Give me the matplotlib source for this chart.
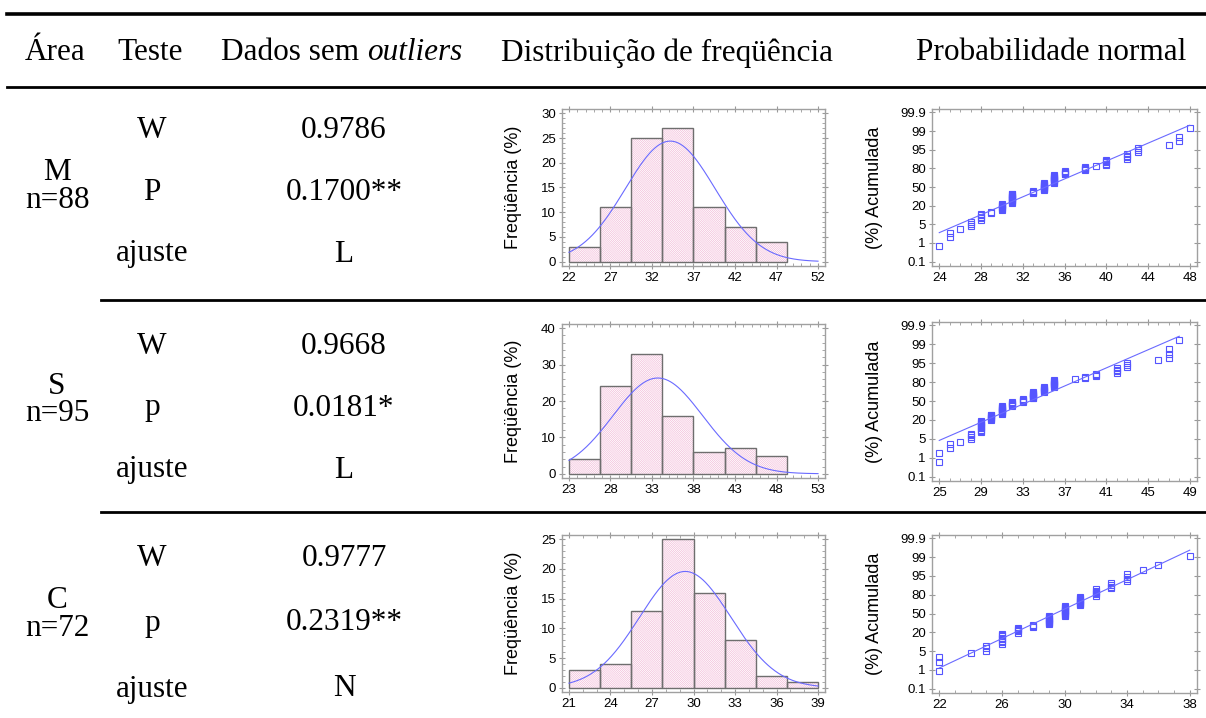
import math
import matplotlib.pyplot as plt
import numpy as np
from matplotlib.lines import Line2D
from matplotlib.text import Annotation
from matplotlib.ticker import AutoMinorLocator

# dados da tabela
header = ['Área', 'Teste', 'Distribuição de freqüência', 'Probabilidade normal']
header_dados = ['Dados sem ', 'outliers']
areas = ['M', 'S', 'C']
n_labels = ['n=88', 'n=95', 'n=72']
tests = [['W', 'P', 'ajuste'], ['W', 'p', 'ajuste'], ['W', 'p', 'ajuste']]
results = [['0.9786', '0.1700**', 'L'],
           ['0.9668', '0.0181*', 'L'],
           ['0.9777', '0.2319**', 'N']]

# histogramas (8 classes cada)
hist_lo = [22, 23, 21]
hist_hi = [52, 53, 39]
hist_counts = [[3, 11, 25, 27, 11, 7, 4, 0],
               [4, 24, 33, 16, 6, 7, 5, 0],
               [3, 4, 13, 25, 16, 8, 2, 1]]
hist_xticks = [[22, 27, 32, 37, 42, 47, 52],
               [23, 28, 33, 38, 43, 48, 53],
               [21, 24, 27, 30, 33, 36, 39]]
hist_yticks = [[0, 5, 10, 15, 20, 25, 30],
               [0, 10, 20, 30, 40],
               [0, 5, 10, 15, 20, 25]]

# ajuste normal (media, desvio)
fit_mean = [34.2, 33.7, 29.4]
fit_sd = [5.4, 5.4, 3.3]

# valores observados (valor, repeticoes) para o grafico de probabilidade
m_vals = [24, 25, 26, 27, 28, 29, 30, 31, 33, 34, 35, 36, 38, 39, 40, 42, 43, 46, 47, 48]
m_reps = [1, 2, 1, 3, 5, 2, 8, 13, 4, 11, 11, 5, 5, 1, 5, 4, 3, 1, 2, 1]
s_vals = [25, 26, 27, 28, 29, 30, 31, 32, 33, 34, 35, 36, 38, 39, 40, 42, 43, 46, 47, 48]
s_reps = [2, 2, 1, 4, 11, 8, 12, 6, 5, 10, 7, 9, 1, 2, 3, 4, 3, 1, 3, 1]
c_vals = [22, 24, 25, 26, 27, 28, 29, 30, 31, 32, 33, 34, 35, 36, 38]
c_reps = [3, 1, 3, 8, 5, 3, 10, 12, 10, 6, 4, 4, 1, 1, 1]
prob_vals = [m_vals, s_vals, c_vals]
prob_reps = [m_reps, s_reps, c_reps]
prob_xticks = [[24, 28, 32, 36, 40, 44, 48],
               [25, 29, 33, 37, 41, 45, 49],
               [22, 26, 30, 34, 38]]
prob_ylabels = ['0.1', '1', '5', '20', '50', '80', '95', '99', '99.9']

W, H = 1206, 718
plt.rcParams['hatch.linewidth'] = 0.4
fig = plt.figure(figsize=(12.06, 7.18), dpi=100)


def fx(x):
    return x / W


def fy(y):
    return 1 - y / H


def box(l, t, r, b):
    return [fx(l), fy(b), (r - l) / W, (b - t) / H]


serif = 'Liberation Serif'
sans = 'Liberation Sans'
fs = 22.5

# linhas da tabela
fig.add_artist(Line2D([fx(7), fx(1206)], [fy(13.5), fy(13.5)], color='k', lw=2.6))
fig.add_artist(Line2D([fx(7), fx(1206)], [fy(86.5), fy(86.5)], color='k', lw=2.0))
for y in [300, 512]:
    fig.add_artist(Line2D([fx(101), fx(1206)], [fy(y), fy(y)], color='k', lw=2.0))

# cabecalho
hy = fy(53)
fig.text(fx(55), hy, header[0], ha='center', va='center', family=serif, size=fs)
fig.text(fx(150), hy, header[1], ha='center', va='center', family=serif, size=fs)
t1 = fig.text(fx(221), hy, header_dados[0], ha='left', va='center', family=serif, size=fs)
fig.add_artist(Annotation(header_dados[1], xy=(1, 0), xycoords=t1, ha='left', va='bottom',
                          family=serif, size=fs, style='italic'))
fig.text(fx(667), hy, header[2], ha='center', va='center', family=serif, size=fs)
fig.text(fx(1051), hy, header[3], ha='center', va='center', family=serif, size=fs)

area_y = [[172, 201], [386, 414], [600, 628]]
test_y = [[131, 193, 254], [346, 408, 470], [559, 623, 689]]
for i in range(3):
    for k in range(2):
        txt = [areas[i], n_labels[i]][k]
        fig.text(fx(57), fy(area_y[i][k]), txt, ha='center', va='center', family=serif, size=fs)
    for k in range(3):
        yy = fy(test_y[i][k])
        fig.text(fx(152), yy, tests[i][k], ha='center', va='center', family=serif, size=fs)
        fig.text(fx(344), yy, results[i][k], ha='center', va='center', family=serif, size=fs)

# quantis da normal
zgrid = np.linspace(-4, 4, 2001)
cdf = 0.5 * (1 + np.array([math.erf(z / math.sqrt(2)) for z in zgrid]))


def style_axes(ax):
    for sp in ax.spines.values():
        sp.set_color('#a0a0a0')
        sp.set_linewidth(1)
    ax.tick_params(which='both', direction='in', top=True, right=True,
                   color='#999999', labelsize=9.5, pad=2, labelfontfamily=sans)
    ax.tick_params(which='major', direction='inout', length=5)
    ax.tick_params(which='minor', length=2.5)


hist_boxes = [(562, 109, 825, 266), (562, 324, 825, 478), (562, 535, 825, 692)]
prob_boxes = [(932, 109, 1197, 266), (932, 322, 1197, 481), (932, 535, 1197, 693)]

for i in range(3):
    # histograma
    ax = fig.add_axes(box(*hist_boxes[i]))
    counts = np.array(hist_counts[i])
    edges = np.linspace(hist_lo[i], hist_hi[i], len(counts) + 1)
    bw = edges[1] - edges[0]
    keep = counts > 0
    ax.bar(edges[:-1][keep], counts[keep], width=bw, align='edge', color='white',
           edgecolor='#f0b0d2', hatch='\\' * 16, linewidth=0)
    ax.bar(edges[:-1][keep], counts[keep], width=bw, align='edge', fill=False,
           edgecolor='#6e6e6e', linewidth=1)
    xs = np.linspace(hist_lo[i], hist_hi[i], 300)
    n = counts.sum()
    curve = n * bw * np.exp(-0.5 * ((xs - fit_mean[i]) / fit_sd[i]) ** 2) / (fit_sd[i] * math.sqrt(2 * math.pi))
    ax.plot(xs, curve, color='#6a6aff', lw=0.8)
    rng = hist_hi[i] - hist_lo[i]
    ax.set_xlim(hist_lo[i] - 0.028 * rng, hist_hi[i] + 0.028 * rng)
    ymax = hist_yticks[i][-1]
    ax.set_ylim(-0.029 * ymax, ymax * 1.029)
    ax.set_xticks(hist_xticks[i])
    ax.set_yticks(hist_yticks[i])
    ax.xaxis.set_minor_locator(AutoMinorLocator(5 if i < 2 else 3))
    ax.yaxis.set_minor_locator(AutoMinorLocator(5))
    style_axes(ax)
    ax.set_ylabel('Freqüência (%)', family=sans, size=13)
    ax.yaxis.set_label_coords(-0.152, 0.5)

    # probabilidade normal
    ax = fig.add_axes(box(*prob_boxes[i]))
    data = np.repeat(prob_vals[i], prob_reps[i])
    n = len(data)
    ranks = np.arange(1, n + 1)
    p = (ranks - 0.375) / (n + 0.25)
    z = np.interp(p, cdf, zgrid)
    ax.plot(data, z, ls='none', marker='s', ms=4.2, mfc='none', mec='#5555ff', mew=0.8)
    lx = np.array([data.min(), data.max()])
    ax.plot(lx, (lx - fit_mean[i]) / fit_sd[i], color='#6a6aff', lw=0.8)
    lo, hi = prob_xticks[i][0], prob_xticks[i][-1]
    rng = hi - lo
    ax.set_xlim(lo - 0.029 * rng, hi + 0.029 * rng)
    zt = np.linspace(-3.09, 3.09, len(prob_ylabels))
    ax.set_ylim(-3.27, 3.23)
    ax.set_xticks(prob_xticks[i])
    ax.set_yticks(zt)
    ax.set_yticklabels(prob_ylabels)
    ax.xaxis.set_minor_locator(AutoMinorLocator(4))
    style_axes(ax)
    ax.set_ylabel('(%) Acumulada', family=sans, size=13)
    ax.yaxis.set_label_coords(-0.185, 0.5)

fig.savefig('out.png', dpi=100)
